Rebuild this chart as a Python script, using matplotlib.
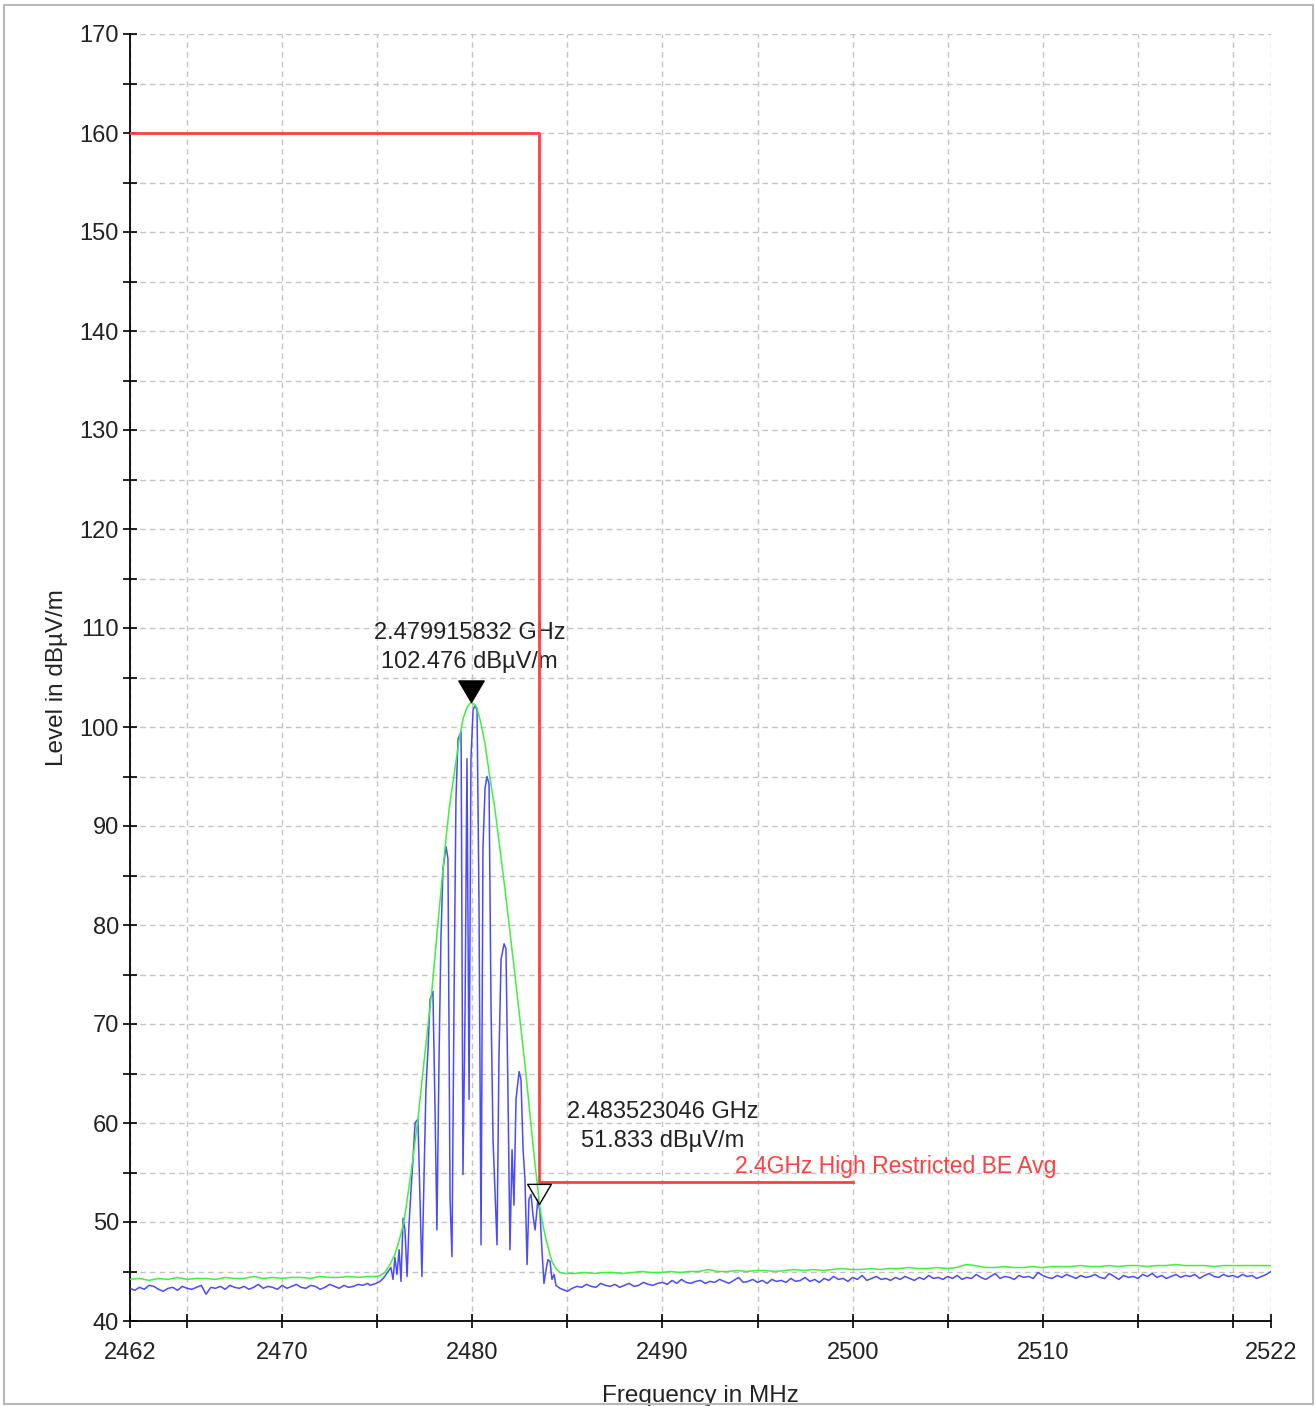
import numpy as np
import matplotlib.pyplot as plt
from matplotlib.path import Path
from matplotlib.patches import Rectangle

plt.rcParams['font.family'] = ['Liberation Sans', 'DejaVu Sans']

# Sweep range / plot limits
f_start, f_stop = 2462.0, 2522.0
lvl_min, lvl_max = 40, 170

# Peak-hold trace (green): noise floor left, emission, noise floor right
green_left = [44.2, 44.3, 44.1, 44.3, 44.2, 44.4, 44.2, 44.3, 44.3, 44.2, 44.4, 44.3, 44.3, 44.5,
              44.3, 44.4, 44.3, 44.4, 44.4, 44.3, 44.5, 44.4, 44.4, 44.5, 44.4, 44.5, 44.5]
green_left_span = (2462.0, 2475.0)

green_peak_f = [2475.15, 2475.4, 2475.67, 2475.9, 2476.09, 2476.3, 2476.46, 2476.8, 2477.14, 2477.5,
                2477.88, 2478.2, 2478.56, 2478.8, 2479.09, 2479.3, 2479.51, 2479.7, 2479.915832, 2480.1,
                2480.25, 2480.45, 2480.67, 2480.9, 2481.19, 2481.45, 2481.72, 2482.0, 2482.24, 2482.5,
                2482.77, 2483.0, 2483.14, 2483.3, 2483.45, 2483.523046, 2483.7, 2483.88, 2484.05, 2484.19,
                2484.4, 2484.61]
green_peak_l = [44.6, 44.9, 45.7, 46.6, 47.7, 49.2, 50.7, 55.3, 60.4, 66.9,
                73.5, 80.3, 87.7, 92.0, 95.8, 98.6, 100.8, 101.9, 102.476, 102.3,
                101.9, 100.4, 98.3, 95.2, 91.7, 87.7, 83.6, 79.0, 75.0, 70.5,
                65.9, 61.5, 58.8, 55.8, 53.3, 51.833, 49.8, 48.2, 47.0, 46.0,
                45.3, 44.9]

green_right = [44.8, 44.8, 44.9, 44.8, 44.9, 44.9, 44.8, 44.9, 45.0, 44.9, 44.9, 45.0, 44.9, 45.0,
               45.0, 45.2, 45.0, 45.0, 45.1, 45.0, 45.1, 45.1, 45.0, 45.1, 45.2, 45.1, 45.2, 45.1,
               45.2, 45.3, 45.2, 45.2, 45.3, 45.2, 45.3, 45.3, 45.4, 45.3, 45.3, 45.4, 45.3, 45.4,
               45.7, 45.6, 45.4, 45.4, 45.5, 45.4, 45.4, 45.5, 45.4, 45.5, 45.5, 45.5, 45.6, 45.5,
               45.5, 45.6, 45.5, 45.6, 45.6, 45.5, 45.6, 45.6, 45.7, 45.6, 45.6, 45.6, 45.5, 45.6,
               45.6, 45.6, 45.6, 45.6, 45.6]
green_right_span = (2484.9, 2522.0)

# Average trace (blue)
blue_left = [43.3, 43.1, 43.4, 43.2, 43.6, 43.5, 43.2, 43.0, 43.3, 43.4, 43.1, 43.5, 43.3, 43.2,
             43.4, 43.6, 42.7, 43.4, 43.3, 43.5, 43.2, 43.6, 43.4, 43.3, 43.5, 43.2, 43.4, 43.7,
             43.3, 43.5, 43.4, 43.2, 43.6, 43.3, 43.5, 43.7, 43.4, 43.3, 43.6, 43.5, 43.2, 43.4,
             43.7, 43.5, 43.3, 43.6, 43.4, 43.5, 43.7, 43.6, 43.8]
blue_left_span = (2462.0, 2474.5)

blue_peak_f = [2474.62, 2474.94, 2475.15, 2475.36, 2475.57, 2475.72, 2475.83, 2475.93, 2476.04, 2476.15,
               2476.25, 2476.36, 2476.46, 2476.57, 2476.67, 2476.78, 2476.88, 2476.99, 2477.14, 2477.25,
               2477.35, 2477.46, 2477.56, 2477.67, 2477.78, 2477.93, 2478.04, 2478.14, 2478.25, 2478.35,
               2478.46, 2478.62, 2478.72, 2478.83, 2478.93, 2479.04, 2479.14, 2479.25, 2479.41, 2479.51,
               2479.62, 2479.72, 2479.83, 2479.93, 2480.04, 2480.14, 2480.25, 2480.35, 2480.46, 2480.56,
               2480.67, 2480.77, 2480.88, 2480.98, 2481.09, 2481.19, 2481.30, 2481.40, 2481.51, 2481.67,
               2481.77, 2481.88, 2481.98, 2482.09, 2482.19, 2482.30, 2482.46, 2482.56, 2482.67, 2482.77,
               2482.88, 2482.98, 2483.09, 2483.19, 2483.30, 2483.45, 2483.56, 2483.66, 2483.77, 2483.88,
               2483.98, 2484.09, 2484.19, 2484.30, 2484.40, 2484.61, 2484.87]
blue_peak_l = [43.6, 43.8, 44.0, 44.4, 45.0, 45.4, 44.2, 46.4, 44.7, 47.2,
               44.0, 50.4, 49.2, 44.5, 49.7, 53.3, 56.3, 60.0, 60.4, 52.3,
               44.5, 54.3, 63.4, 67.4, 72.5, 73.3, 61.4, 49.2, 66.4, 78.6,
               85.7, 87.9, 86.7, 52.3, 46.5, 72.5, 92.7, 98.8, 99.5, 54.8,
               71.5, 96.8, 62.4, 96.8, 101.7, 102.2, 101.7, 82.6, 47.7, 87.7,
               93.8, 95.0, 94.3, 72.5, 58.3, 53.3, 47.7, 66.4, 76.5, 78.1,
               77.6, 62.4, 47.2, 57.3, 51.7, 62.4, 65.2, 64.4, 57.3, 54.3,
               45.7, 52.3, 52.8, 50.7, 49.2, 52.3, 51.0, 47.2, 43.8, 45.2,
               46.2, 46.0, 44.2, 44.7, 43.6, 43.3, 43.1]

blue_right = [43.0, 43.3, 43.5, 43.4, 43.7, 43.5, 43.4, 43.8, 43.6, 43.5,
              43.7, 43.4, 43.6, 43.8, 43.5, 43.6, 43.9, 43.7, 43.6, 43.8,
              43.9, 43.7, 44.1, 43.8, 44.2, 43.9, 43.8, 44.0, 44.1, 43.8,
              44.0, 43.9, 44.2, 44.0, 43.8, 44.1, 44.4, 43.9, 44.0, 44.2,
              43.9, 44.1, 43.8, 44.2, 44.0, 44.1, 43.9, 44.3, 44.0, 44.1,
              44.4, 44.0, 44.2, 43.9, 44.3, 44.1, 44.5, 44.2, 44.3, 44.0,
              44.4, 44.2, 44.6, 44.1, 44.3, 44.5, 44.2, 44.3, 44.1, 44.4,
              44.2, 44.5, 44.3, 44.1, 44.4, 44.2, 44.6, 44.3, 44.4, 44.2,
              44.5, 44.3, 44.6, 44.2, 44.4, 44.3, 44.7, 44.4, 44.2, 44.5,
              44.8, 44.3, 44.5, 44.4, 44.2, 44.6, 44.4, 44.5, 44.3, 44.9,
              44.6, 44.4, 44.3, 44.6, 44.4, 44.7, 44.5, 44.3, 44.6, 44.4,
              44.5, 44.7, 44.4, 44.3, 44.8, 44.5, 44.2, 44.6, 44.4, 44.5,
              44.3, 44.7, 44.5, 44.8, 44.4, 44.6, 44.3, 44.5, 44.7, 44.4,
              44.6, 44.5, 44.7, 44.3, 44.6, 44.8, 44.5, 44.4, 44.7, 44.5,
              44.6, 44.4, 44.7, 44.5, 44.6, 44.3, 44.5, 44.7, 45.0]
blue_right_span = (2485.0, 2522.0)

# Limit line
limit_f = [2462.0, 2483.5, 2483.5, 2500.0]
limit_l = [160, 160, 54, 54]
limit_name = '2.4GHz High Restricted BE Avg'

# Markers
m1_f, m1_l = 2479.915832, 102.476
m2_f, m2_l = 2483.523046, 51.833


def sweep(levels, span):
    return np.linspace(span[0], span[1], len(levels))


green_f = np.concatenate([sweep(green_left, green_left_span), green_peak_f,
                          sweep(green_right, green_right_span)])
green_l = np.concatenate([green_left, green_peak_l, green_right])
blue_f = np.concatenate([sweep(blue_left, blue_left_span), blue_peak_f,
                         sweep(blue_right, blue_right_span)])
blue_l = np.concatenate([blue_left, blue_peak_l, blue_right])

fig = plt.figure(figsize=(13.15, 14.06), dpi=100)
ax = fig.add_axes([130 / 1315, 85 / 1406, 1141 / 1315, 1287 / 1406])

ax.plot(blue_f, blue_l, color='#4a4aff', lw=1.1, zorder=3)
ax.plot(green_f, green_l, color='#40f040', lw=1.1, zorder=4)
ax.plot(limit_f, limit_l, color='#ff4040', lw=2.0, zorder=5)

# marker triangles with the apex on the trace point
tri = Path([(-1, 1.7), (1, 1.7), (0, 0), (-1, 1.7)],
           [Path.MOVETO, Path.LINETO, Path.LINETO, Path.CLOSEPOLY])
ax.plot(m1_f, m1_l, marker=tri, ms=31, color='black', mec='black', zorder=6)
ax.plot(m2_f, m2_l, marker=tri, ms=29, mfc='none', mec='black', mew=1.0, zorder=6)

txt_kw = dict(fontsize=17, color='#222222', ha='center', va='bottom',
              multialignment='center', textcoords='offset points', linespacing=1.42)
ax.annotate(f'{m1_f / 1000:.9f} GHz\n{m1_l:.3f} dBµV/m', (m1_f, m1_l),
            xytext=(-1, 21), **txt_kw)
ax.annotate(f'{m2_f / 1000:.9f} GHz\n{m2_l:.3f} dBµV/m', (m2_f, m2_l),
            xytext=(89, 37), **txt_kw)
ax.annotate(limit_name, (2493.8, limit_l[-1]), xytext=(0, 3), textcoords='offset points',
            fontsize=16.5, color='#ff4040', ha='left', va='bottom')

ax.set_xlim(f_start, f_stop)
ax.set_ylim(lvl_min, lvl_max)
ax.set_xticks([2462, 2470, 2480, 2490, 2500, 2510, 2522])
ax.set_xticks([2465, 2475, 2485, 2495, 2505, 2515, 2520], minor=True)
ax.set_yticks(np.arange(40, 171, 10))
ax.set_yticks(np.arange(45, 170, 10), minor=True)
ax.tick_params(which='both', direction='inout', length=10, width=1.2, labelsize=17,
               colors='black', labelcolor='#222222')
ax.tick_params(axis='x', pad=10)
ax.tick_params(axis='y', pad=3)
ax.grid(True, which='both', color='#c4c4c4', ls=(0, (4, 3)), lw=1.0)
for s in ['top', 'right']:
    ax.spines[s].set_visible(False)
for s in ['left', 'bottom']:
    ax.spines[s].set_linewidth(1.3)
ax.set_xlabel('Frequency in MHz', fontsize=17.5, color='#222222', labelpad=15)
ax.set_ylabel('Level in dBµV/m', fontsize=17.5, color='#222222', labelpad=8)

fig.patches.append(Rectangle((4 / 1315, 2 / 1406), 1309 / 1315, 1399 / 1406,
                             transform=fig.transFigure, fill=False,
                             edgecolor='#b8b8b8', lw=1.5))

fig.savefig('out.png', dpi=100)
